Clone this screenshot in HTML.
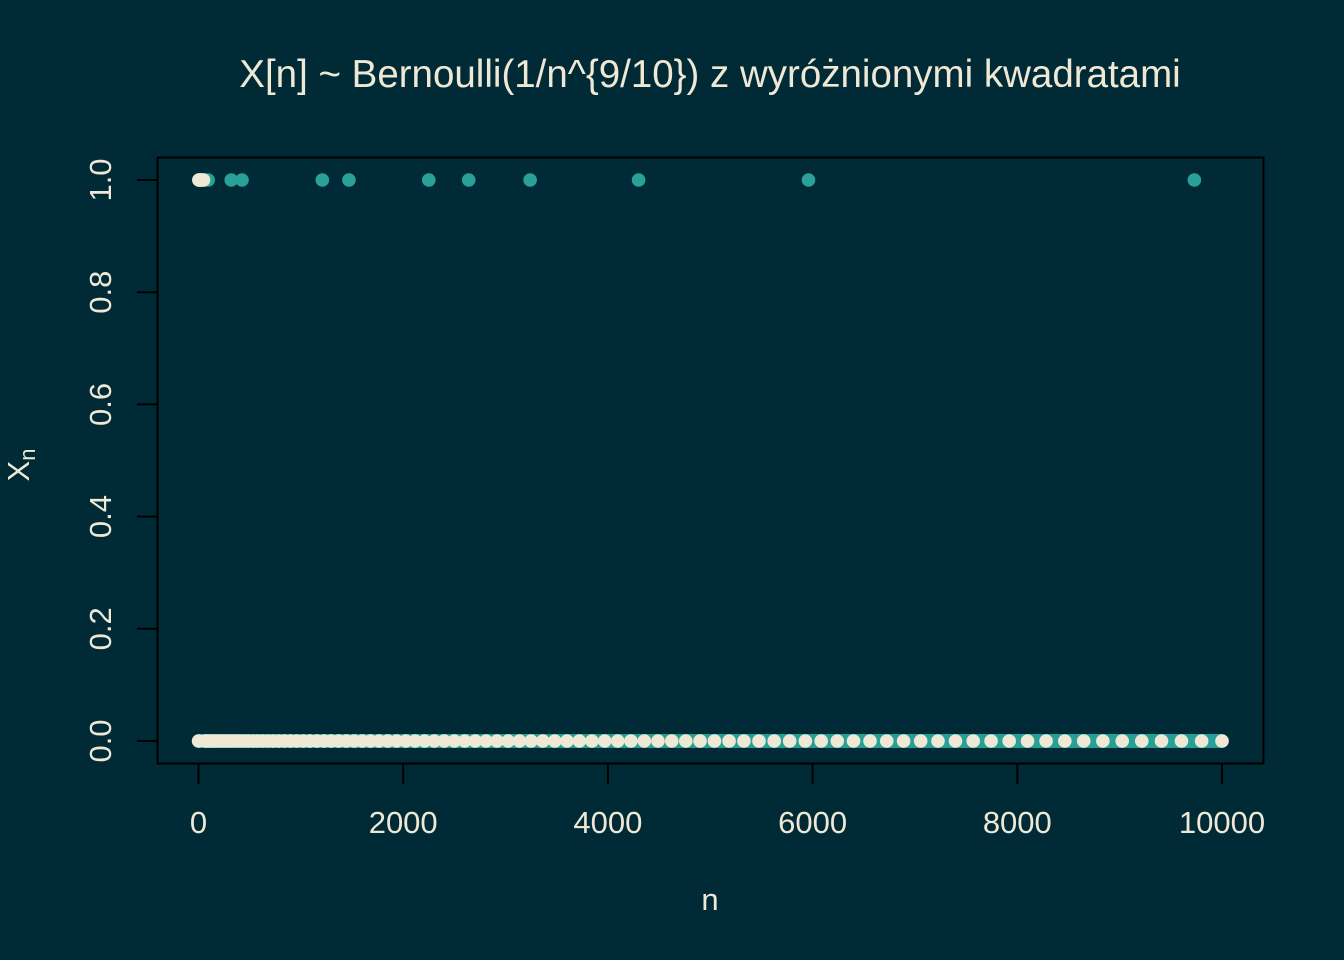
<!DOCTYPE html>
<html><head><meta charset="utf-8"><style>
html,body{margin:0;padding:0;background:#002b36;}
svg{display:block;font-family:"Liberation Sans",sans-serif;}
</style></head><body>
<svg id="chart" width="1344" height="960" viewBox="0 0 1344 960">
<rect width="1344" height="960" fill="#002b36"/>
<text x="710" y="87" text-anchor="middle" font-size="38.5" fill="#eee8d5">X[n] ~ Bernoulli(1/n^{9/10}) z wyróżnionymi kwadratami</text>
<text x="710" y="910" text-anchor="middle" font-size="31" fill="#eee8d5">n</text>
<text transform="translate(29,465) rotate(-90)" text-anchor="middle" font-size="31" fill="#eee8d5">X<tspan font-size="22" dy="6">n</tspan></text>
<g id="ticks"></g>
<g id="marks"></g>
<rect x="157.5" y="157.5" width="1106" height="606" fill="none" stroke="#000" stroke-width="2"/>
</svg>
<script>
const xTicks=[0,2000,4000,6000,8000,10000];
const yTicks=[0.0,0.2,0.4,0.6,0.8,1.0];
const yTickLabels=["0.0","0.2","0.4","0.6","0.8","1.0"];
const N=10000;
const onesTeal=[3,60,95,320,425,1210,1470,2250,2640,3240,4300,5960,9730];
const onesSquares=[4,9,16,25,36,49];
const NS="http://www.w3.org/2000/svg";
const sx=v=>198.5+v*(1222-198.5)/10000;
const sy=v=>741-v*(741-180);
function mk(tag,attrs,parent){const e=document.createElementNS(NS,tag);for(const k in attrs)e.setAttribute(k,attrs[k]);parent.appendChild(e);return e;}
const tg=document.getElementById('ticks'), mg=document.getElementById('marks');
mk('line',{x1:sx(0),x2:sx(10000),y1:763.5,y2:763.5,stroke:'#000','stroke-width':2},tg);
xTicks.forEach(t=>{
 const l=mk('line',{x1:sx(t),x2:sx(t),y1:763,y2:784,stroke:'#000','stroke-width':2},tg);
 
 
 const tx=mk('text',{x:sx(t),y:833,'text-anchor':'middle','font-size':31,fill:'#eee8d5'},tg);
 tx.textContent=t;
 
 
});
yTicks.forEach((t,i)=>{
 const l=mk('line',{x1:137,x2:157,y1:sy(t),y2:sy(t),stroke:'#000','stroke-width':2},tg);
 
 
 const tx=mk('text',{transform:`translate(111,${sy(t)}) rotate(-90)`,'text-anchor':'middle','font-size':31,fill:'#eee8d5'},tg);
 tx.textContent=yTickLabels[i];
 
 
});
const onesSet=new Set(onesTeal.concat(onesSquares));
for(let n=1;n<=N;n++){
 const y=onesSet.has(n)?1:0;
 const c=mk('circle',{cx:sx(n),cy:sy(y),r:6.8,fill:'#2aa198'},mg);
 
 
}
for(let k=1;k*k<=N;k++){
 const n=k*k;
 const y=onesSet.has(n)?1:0;
 const c=mk('circle',{cx:sx(n),cy:sy(y),r:6.8,fill:'#eee8d5'},mg);
 
 
}
</script>
</body></html>
